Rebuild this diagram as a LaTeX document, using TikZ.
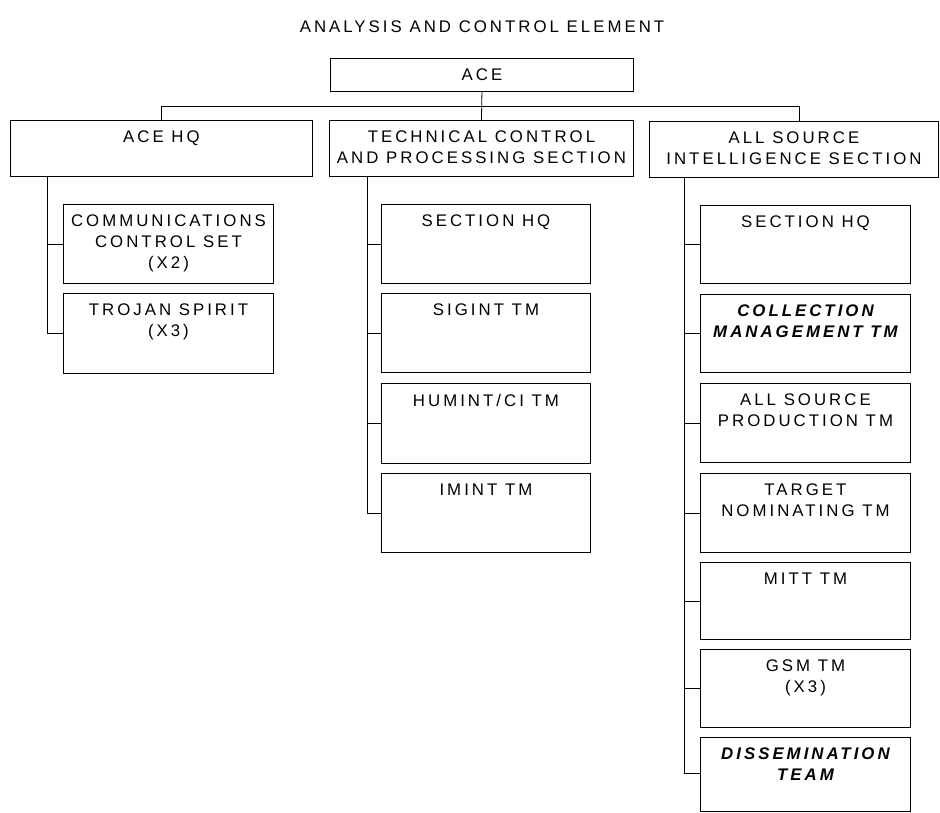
\documentclass[tikz,border=0pt]{standalone}
\usepackage{fontspec}
\setmainfont[LetterSpace=18]{Liberation Sans}
\begin{document}
\begin{tikzpicture}[x=1pt,y=-1pt,
  box/.style={draw, line width=0.9pt, inner sep=0pt, anchor=north west},
  lbl/.style={anchor=north, inner sep=0pt, align=center, font=\fontsize{16.8}{21}\selectfont},
  conn/.style={line width=0.8pt}]
\useasboundingbox (0,0) rectangle (940,812);
\newcommand\mkbox[6]{%
  \node[box, minimum width=#4pt, minimum height=#5pt] (#1) at (#2,#3) {};
  \node[lbl] (#1t) at ([yshift=-11pt]#1.north) {#6};}
% title
\node[lbl] (title) at (482,21) {ANALYSIS AND CONTROL ELEMENT};
% top
\node[box, minimum width=303pt, minimum height=33pt] (ace) at (330,58) {};
\node[lbl, anchor=center] (acet) at (ace.center) {ACE};
\mkbox{acehq}{10}{120}{302}{56}{ACE HQ}
\mkbox{tcps}{329}{120}{304}{56}{TECHNICAL CONTROL\\AND PROCESSING SECTION}
\mkbox{asis}{649}{121}{289}{56}{ALL SOURCE\\INTELLIGENCE SECTION}
\coordinate (hl) at (0,106);
\draw[conn] (ace.south) -- (tcps.north);
\draw[conn] (acehq.north) -- (acehq.north |- hl) -- ([xshift=5pt]asis.north |- hl) -- ([xshift=5pt]asis.north);
% column 1
\mkbox{comms}{63}{204}{210}{79}{COMMUNICATIONS\\CONTROL SET\\(X2)}
\mkbox{trojan}{63}{293}{210}{80}{TROJAN SPIRIT\\(X3)}
\draw[conn] ([xshift=37pt]acehq.south west) |- (trojan.west);
\draw[conn] ([xshift=37pt]acehq.south west |- comms.west) -- (comms.west);
% column 2
\mkbox{shq}{381}{204}{209}{79}{SECTION HQ}
\mkbox{sigint}{381}{293}{209}{79}{SIGINT TM}
\mkbox{humint}{381}{383}{209}{80}{HUMINT/CI TM}
\mkbox{imint}{381}{473}{209}{79}{IMINT TM}
\draw[conn] ([xshift=38pt]tcps.south west) |- (imint.west);
\foreach \n in {shq,sigint,humint}
  \draw[conn] ([xshift=38pt]tcps.south west |- \n.west) -- (\n.west);
% column 3
\mkbox{ashq}{700}{205}{210}{78}{SECTION HQ}
\mkbox{coll}{700}{294}{210}{78}{\bfseries\itshape COLLECTION\\\bfseries\itshape MANAGEMENT TM}
\mkbox{prod}{700}{383}{210}{79}{ALL SOURCE\\PRODUCTION TM}
\mkbox{target}{700}{473}{210}{79}{TARGET\\NOMINATING TM}
\mkbox{mitt}{700}{562}{210}{77}{MITT TM}
\mkbox{gsm}{700}{649}{210}{78}{GSM TM\\(X3)}
\mkbox{dissem}{700}{737}{210}{74}{\bfseries\itshape DISSEMINATION\\\bfseries\itshape TEAM}
\coordinate (dj) at ([yshift=-36pt]dissem.north west);
\draw[conn] ([xshift=35pt]asis.south west) |- (dj);
\foreach \n in {ashq,coll,prod,target,mitt,gsm}
  \draw[conn] ([xshift=35pt]asis.south west |- \n.west) -- (\n.west);
\end{tikzpicture}
\end{document}
